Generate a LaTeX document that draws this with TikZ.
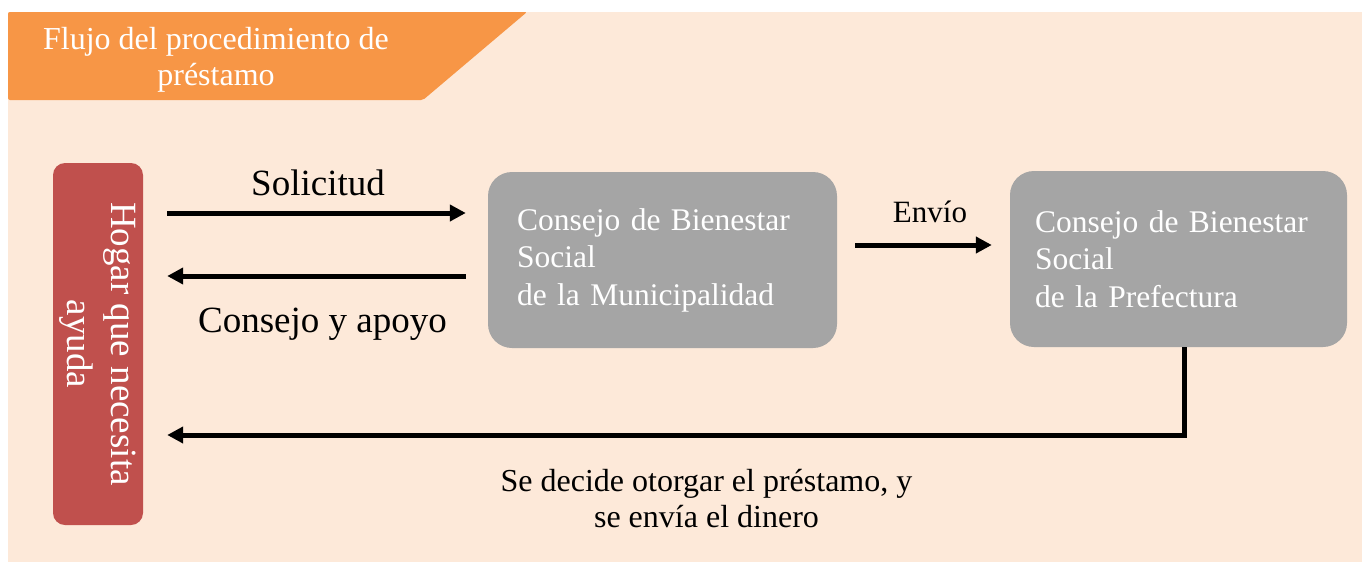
\documentclass[tikz,border=0pt]{standalone}
\usepackage{fontspec}
\setmainfont{Liberation Serif}
\usetikzlibrary{arrows.meta}
\definecolor{peach}{HTML}{FDE9D9}
\definecolor{tabor}{HTML}{F79646}
\definecolor{redbox}{HTML}{C0504D}
\definecolor{graybox}{HTML}{A5A5A5}
\begin{document}
\begin{tikzpicture}[x=1pt,y=-1pt,
  arr/.style={line width=5pt,-{Triangle[length=16pt,width=16pt]}},
  gbox/.style={fill=graybox,rounded corners=24pt,minimum height=176pt,inner sep=0pt,
    align=left,text=white,font=\fontsize{31.5}{37.5}\selectfont},
  rbox/.style={fill=redbox,rounded corners=12pt,inner sep=0pt,align=center,text=white,
    font=\fontsize{37}{44}\selectfont},
  lbl/.style={inner sep=0pt,text=black,align=center},
  big/.style={font=\fontsize{37}{44}\selectfont},
  mid/.style={font=\fontsize{32}{36}\selectfont}]
\useasboundingbox (0,0) rectangle (1362,562);
\fill[peach] (8,12) rectangle (1362,562);
\fill[tabor,rounded corners=2pt] (8,12) -- (527,12) -- (423,100) -- (8,100) -- cycle;
\node[lbl,mid,text=white] (title) at (216,59.5) {Flujo del procedimiento de\\préstamo};

\node[rbox,rotate=-90,minimum width=362pt,minimum height=90pt] (h) at (98,344) {Hogar que necesita\\ayuda};
\node[gbox,minimum width=349pt,text width=291pt] (m) at (662.5,260) {Consejo de Bienestar\\Social\\de la Municipalidad};
\node[gbox,minimum width=337pt,text width=287pt] (p) at (1178.5,259) {Consejo de Bienestar\\Social\\de la Prefectura};

\draw[arr,shorten <=24pt,shorten >=22pt] (h.north |- 0,213) -- (m.west |- 0,213);
\draw[arr,shorten <=22pt,shorten >=24pt] (m.west |- 0,276) -- (h.north |- 0,276);
\draw[arr,shorten <=18pt,shorten >=18pt] (m.east |- 0,245) -- (p.west |- 0,245);
\draw[arr,shorten >=24pt] ([xshift=5.5pt]p.south) |- (h.north |- 0,435);

\node[lbl,big,anchor=base] (l1) at (318,195) {Solicitud};
\node[lbl,big,anchor=base] (l2) at (322.5,332) {Consejo y apoyo};
\node[lbl,font=\fontsize{31}{36}\selectfont,anchor=base] (l3) at (930,222) {Envío};
\node[lbl,mid] (l4) at (706.5,499) {Se decide otorgar el préstamo, y\\se envía el dinero};
\end{tikzpicture}
\end{document}
